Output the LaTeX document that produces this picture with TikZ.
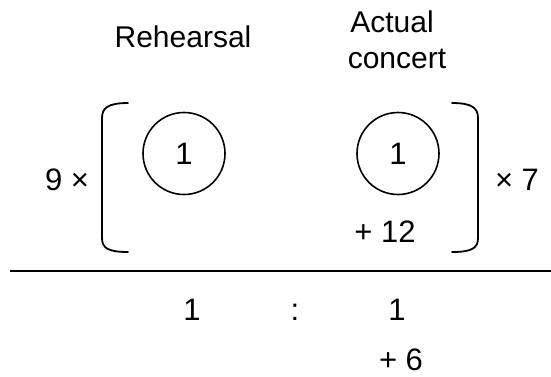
\documentclass[tikz,border=0pt]{standalone}
\usepackage{fontspec}
\setmainfont{Liberation Sans}
\begin{document}
\begin{tikzpicture}[x=1pt,y=-1pt,
  txt/.style={inner sep=0pt,font=\fontsize{30}{35}\selectfont},
  num/.style={inner sep=0pt,font=\fontsize{31}{36}\selectfont},
  bl/.style={txt,anchor=base},
  nbl/.style={num,anchor=base},
  ring/.style={circle,draw,line width=1.6pt,minimum size=82pt,inner sep=0pt,font=\fontsize{31}{36}\selectfont},
  brk/.style={line width=1.8pt,line cap=round},
  rule/.style={line width=2.2pt}]
\useasboundingbox (0,0) rectangle (551,376);

% column headings
\node[bl] (reh) at (183,47) {Rehearsal};
\node[bl] (act) at (392,32) {Actual};
\node[bl] (con) at (397,68) {concert};

% one unit for each column
\node[ring] (c1) at (184,153.5) {1};
\node[ring] (c2) at (398,153.5) {1};
\node[nbl] (p12) at (385,242) {+ 12};

% square brackets with rounded corners
\draw[brk] (128,103) .. controls (108,103) and (102,108) .. (102,118)
  -- (102,238) .. controls (102,248) and (108,252) .. (128,252);
\draw[brk] (452,103) .. controls (472,103) and (478,108) .. (478,118)
  -- (478,238) .. controls (478,248) and (472,252) .. (452,252);

% factors outside the brackets
\node[num] (f9) at (67,180) {9 ×};
\node[num] (f7) at (517,180) {× 7};

% dividing rule
\coordinate (ra) at (10,271);
\coordinate (rb) at (551,271);
\draw[rule] (ra) -- (rb);

% resulting ratio
\node[nbl] (r1) at (192,320) {1};
\node[nbl] (rc) at (295,320) {:};
\node[nbl] (r2) at (397,320) {1};
\node[nbl] (p6) at (401,370) {+ 6};
\end{tikzpicture}
\end{document}
